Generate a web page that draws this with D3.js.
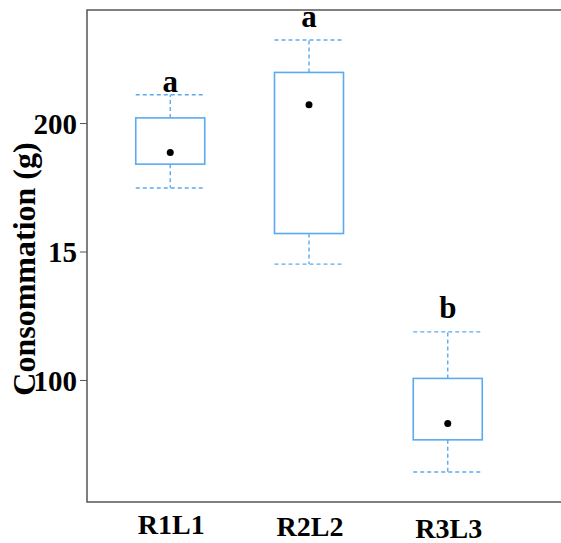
<!DOCTYPE html>
<html>
<head>
<meta charset="utf-8">
<script src="https://cdn.jsdelivr.net/npm/d3@7"></script>
<style>
  html, body { margin: 0; padding: 0; background: #fff; }
  svg { display: block; font-family: "Liberation Serif", "DejaVu Serif", serif; font-weight: bold; }
</style>
</head>
<body>
<svg id="chart" width="561" height="543"></svg>
<script>
// box plot: consommation par groupe
var groups   = ['R1L1', 'R2L2', 'R3L3'];
var whiskLo  = [174.7, 145.1, 64.2];
var q1       = [184, 157, 76.7];
var q3       = [202, 219.7, 100.6];
var whiskHi  = [211, 232.3, 118.7];
var dots     = [188.5, 207.1, 83.1];
var letters  = ['a', 'a', 'b'];
var letterAt = [212, 237.5, 124.3];   // position (valeur) de la lettre
var yTicks   = [100, 150, 200];
var yTickLabels = ['100', '15', '200'];  // tel quel sur la figure

var L = 87, T = 10, B = 502, R = 600;
var BLUE = '#5aaaf0';
var SERIF = '"Liberation Serif", "DejaVu Serif", serif';

var svg = d3.select('#chart');
var x = d3.scalePoint().domain(groups).range([L, 531]).padding(0.6);
var y = d3.scaleLinear().domain([52.5, 244]).range([B, T]);
var bw = 69;

// cadre
svg.append('rect').attr('x', L).attr('y', T).attr('width', R - L).attr('height', B - T)
  .attr('fill', 'none').attr('stroke', '#555').attr('stroke-width', 1.5);

// axe y
var yAx = svg.append('g').attr('transform', 'translate(' + L + ',0)')
  .call(d3.axisLeft(y).tickValues(yTicks).tickSize(7).tickPadding(3)
    .tickFormat(function (d, i) { return yTickLabels[i]; }));
yAx.attr('font-family', SERIF).attr('font-size', 29).attr('font-weight', 'bold');
yAx.select('.domain').remove();
yAx.selectAll('line').attr('stroke', '#555');
yAx.selectAll('text').attr('fill', '#000').attr('dy', '0.35em');

svg.append('text').attr('transform', 'translate(35,269) rotate(-90)')
  .attr('text-anchor', 'middle').attr('font-size', 32).text('Consommation (g)');

// axe x (étiquettes)
svg.selectAll('text.xl').data(groups).enter().append('text').attr('class', 'xl')
  .attr('x', function (d) { return x(d) + 1; })
  .attr('y', function (d, i) { return 534 + i * 2; })
  .attr('text-anchor', 'middle').attr('font-size', 28).text(function (d) { return d; });

// boîtes
var g = svg.selectAll('g.box').data(groups).enter().append('g').attr('class', 'box');

function dashed(sel) {
  return sel.attr('stroke', BLUE).attr('stroke-width', 1.4).attr('stroke-dasharray', '4,3');
}
g.append('line').call(dashed)
  .attr('x1', function (d) { return x(d); }).attr('x2', function (d) { return x(d); })
  .attr('y1', function (d, i) { return y(q3[i]); }).attr('y2', function (d, i) { return y(whiskHi[i]); });
g.append('line').call(dashed)
  .attr('x1', function (d) { return x(d); }).attr('x2', function (d) { return x(d); })
  .attr('y1', function (d, i) { return y(q1[i]); }).attr('y2', function (d, i) { return y(whiskLo[i]); });
[whiskHi, whiskLo].forEach(function (arr) {
  g.append('line').call(dashed)
    .attr('x1', function (d) { return x(d) - bw / 2; }).attr('x2', function (d) { return x(d) + bw / 2; })
    .attr('y1', function (d, i) { return y(arr[i]); }).attr('y2', function (d, i) { return y(arr[i]); });
});
g.append('rect')
  .attr('x', function (d) { return x(d) - bw / 2; })
  .attr('y', function (d, i) { return y(q3[i]); })
  .attr('width', bw)
  .attr('height', function (d, i) { return y(q1[i]) - y(q3[i]); })
  .attr('fill', 'none').attr('stroke', BLUE).attr('stroke-width', 1.6);
g.append('circle')
  .attr('cx', function (d) { return x(d); })
  .attr('cy', function (d, i) { return y(dots[i]); })
  .attr('r', 3.5).attr('fill', '#000');
g.append('text')
  .attr('x', function (d) { return x(d); })
  .attr('y', function (d, i) { return y(letterAt[i]); })
  .attr('text-anchor', 'middle').attr('font-size', 31)
  .text(function (d, i) { return letters[i]; });
</script>
</body>
</html>
